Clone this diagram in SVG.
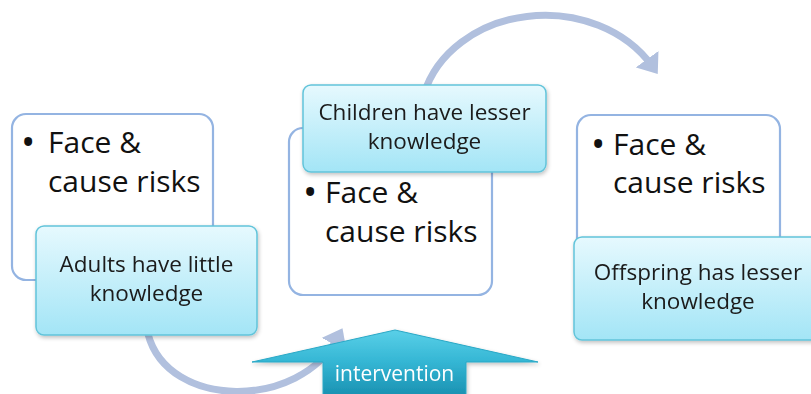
<svg xmlns="http://www.w3.org/2000/svg" width="811" height="394" viewBox="0 0 811 394">
<defs>
  <linearGradient id="blueFill" x1="0" y1="0" x2="0" y2="1">
    <stop offset="0" stop-color="#e6f9fe"/>
    <stop offset="1" stop-color="#a3e5f6"/>
  </linearGradient>
  <linearGradient id="intFill" gradientUnits="userSpaceOnUse" x1="0" y1="330" x2="0" y2="394">
    <stop offset="0" stop-color="#5ad0e8"/>
    <stop offset="0.5" stop-color="#34b6d4"/>
    <stop offset="1" stop-color="#1b93b3"/>
  </linearGradient>
  <filter id="shadow" x="-10%" y="-10%" width="125%" height="130%">
    <feGaussianBlur in="SourceAlpha" stdDeviation="2"/>
    <feOffset dx="1" dy="2" result="b"/>
    <feComponentTransfer><feFuncA type="linear" slope="0.25"/></feComponentTransfer>
    <feMerge><feMergeNode/><feMergeNode in="SourceGraphic"/></feMerge>
  </filter>
  <marker id="arrow" markerWidth="4" markerHeight="4" refX="1.2" refY="2" orient="auto" markerUnits="strokeWidth">
    <path d="M0,0 L2.6,2 L0,4 Z" fill="#b1c0de"/>
  </marker>
  <style>
    .white { fill: #ffffff; stroke: #94b4e2; stroke-width: 2.2; }
    .blue { fill: url(#blueFill); stroke: #62c4da; stroke-width: 1.5; }
    .big { font-family: "Open Sans", "Noto Sans", sans-serif; font-size: 30px; fill: #111111; }
    .bullet { font-family: "Open Sans", "Noto Sans", sans-serif; font-size: 38px; fill: #111111; }
    .small { font-family: "Open Sans", "Noto Sans", sans-serif; font-size: 22.5px; fill: #1a1a1a; text-anchor: middle; }
    .arc { fill: none; stroke: #b1c0de; stroke-width: 7; }
    .label { font-family: "Open Sans", "Noto Sans", sans-serif; font-size: 21px; fill: #ffffff; text-anchor: middle; }
  </style>
</defs>
<rect width="811" height="394" fill="#ffffff"/>

<g id="connectors">
  <path class="arc" d="M424,94 A125,105 0 0 1 652,66" marker-end="url(#arrow)"/>
  <path class="arc" d="M148,334 C168,410 300,410 338,337" marker-end="url(#arrow)"/>
</g>

<g id="node-left">
  <rect class="white" x="12" y="114" width="201" height="166" rx="14"/>
  <text class="bullet" x="21" y="156">•</text>
  <text class="big" x="48" y="153">Face &amp;</text>
  <text class="big" x="48" y="192">cause risks</text>
</g>
<g id="node-left-label" filter="url(#shadow)">
  <rect class="blue" x="36" y="226" width="221" height="109" rx="8"/>
  <text class="small"><tspan x="146.5" y="272">Adults have little</tspan><tspan x="146.5" y="301">knowledge</tspan></text>
</g>

<g id="node-middle">
  <rect class="white" x="289" y="128" width="203" height="167" rx="14"/>
  <text class="bullet" x="303" y="206">•</text>
  <text class="big" x="325" y="203">Face &amp;</text>
  <text class="big" x="325" y="242">cause risks</text>
</g>
<g id="node-middle-label" filter="url(#shadow)">
  <rect class="blue" x="303" y="85" width="243" height="87" rx="8"/>
  <text class="small"><tspan x="424.5" y="120">Children have lesser</tspan><tspan x="424.5" y="149">knowledge</tspan></text>
</g>

<g id="node-right">
  <rect class="white" x="577" y="115" width="203" height="166" rx="14"/>
  <text class="bullet" x="591" y="158">•</text>
  <text class="big" x="613" y="155">Face &amp;</text>
  <text class="big" x="613" y="193">cause risks</text>
</g>
<g id="node-right-label" filter="url(#shadow)">
  <rect class="blue" x="574" y="237" width="252" height="103" rx="8"/>
  <text class="small"><tspan x="698" y="280">Offspring has lesser</tspan><tspan x="698" y="309">knowledge</tspan></text>
</g>

<g id="node-intervention" filter="url(#shadow)">
  <polygon points="252,362 395,330 538,362 466,362 466,396 323,396 323,362" fill="url(#intFill)" stroke="#2aa8c6" stroke-width="1"/>
  <text class="label" x="394.5" y="381">intervention</text>
</g>
</svg>
